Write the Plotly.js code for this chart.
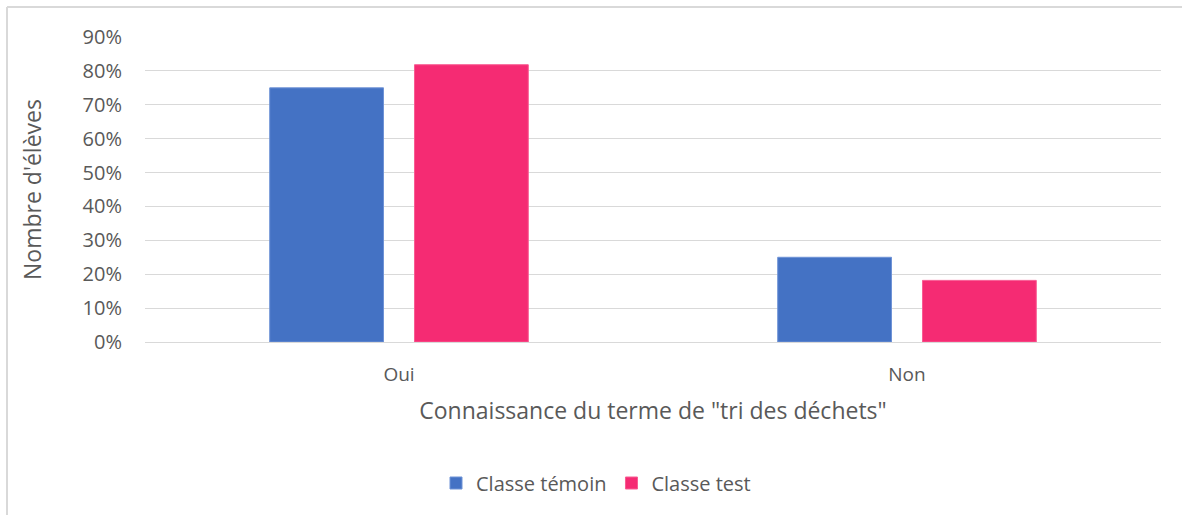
<!DOCTYPE html>
<html>
<head>
<meta charset="utf-8">
<script src="https://cdn.plot.ly/plotly-3.0.1.min.js"></script>
<style>
html,body{margin:0;padding:0;background:#fff;}
#chart{width:1182px;height:515px;}
</style>
</head>
<body>
<div id="chart"></div>
<script>
const categories = ["Oui", "Non"];
const temoinValues = [0.75, 0.25];
const testValues = [0.8182, 0.1818];
const seriesNames = ["Classe témoin", "Classe test"];
const yTickVals = [0, 0.1, 0.2, 0.3, 0.4, 0.5, 0.6, 0.7, 0.8, 0.9];
const yTickText = ["0%", "10%", "20%", "30%", "40%", "50%", "60%", "70%", "80%", "90%"];

const W = 1182, H = 515;
const M = {l: 145, r: 21, t: 37, b: 173};
const pw = W - M.l - M.r, ph = H - M.t - M.b;
const px = x => (x - M.l) / pw;
const py = y => (H - M.b - y) / ph;

const font = "'Open Sans', 'Noto Sans', sans-serif";
const grey = "#595959";

const traces = [
  {type: "bar", x: categories, y: temoinValues, name: seriesNames[0],
   marker: {color: "#4472C4", line: {color: "#6f93d6", width: 1}}, hoverinfo: "skip"},
  {type: "bar", x: categories, y: testValues, name: seriesNames[1],
   marker: {color: "#F52B73", line: {color: "#f85c93", width: 1}}, hoverinfo: "skip"}
];

const layout = {
  width: W, height: H,
  margin: M,
  paper_bgcolor: "#fff", plot_bgcolor: "#fff",
  font: {family: font, color: grey, size: 19},
  barmode: "group",
  bargap: 0.43,
  bargroupgap: 0.214,
  showlegend: true,
  legend: {orientation: "h", x: px(596), xanchor: "center", y: py(483), yanchor: "middle",
           font: {size: 20, color: grey}, itemwidth: 30, traceorder: "normal"},
  xaxis: {
    type: "category",
    showgrid: false, zeroline: false,
    showline: true, linecolor: "#d9d9d9", linewidth: 1,
    ticks: "", ticklabelstandoff: 15,
    tickfont: {size: 19, color: grey},
    title: {text: 'Connaissance du terme de "tri des déchets"', font: {size: 23, color: grey}, standoff: 17}
  },
  yaxis: {
    range: [0, 0.9],
    tickvals: yTickVals, ticktext: yTickText,
    showgrid: true, gridcolor: "#d9d9d9", gridwidth: 1,
    zeroline: false, showline: false,
    ticks: "", ticklabelstandoff: 22,
    tickfont: {size: 20, color: grey},
    title: {text: "Nombre d'élèves", font: {size: 23, color: grey}, standoff: 34}
  },
  shapes: [
    {type: "line", xref: "paper", yref: "paper", x0: px(7), x1: px(7), y0: py(7), y1: py(530),
     line: {color: "#d9d9d9", width: 2}},
    {type: "line", xref: "paper", yref: "paper", x0: px(7), x1: px(1200), y0: py(7), y1: py(7),
     line: {color: "#d9d9d9", width: 2}}
  ]
};

Plotly.newPlot("chart", traces, layout, {staticPlot: true, displayModeBar: false});
</script>
</body>
</html>
